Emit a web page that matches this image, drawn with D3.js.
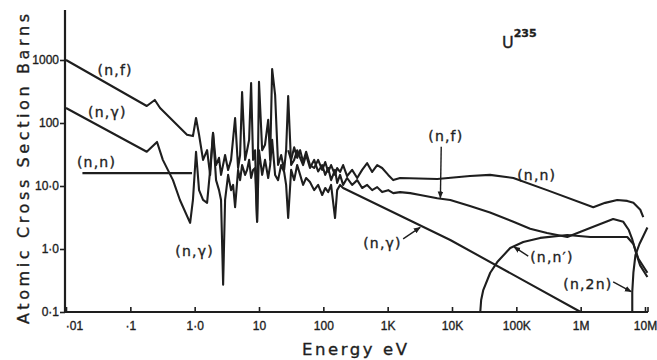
<!DOCTYPE html>
<html>
<head>
<meta charset="utf-8">
<script src="https://cdn.jsdelivr.net/npm/d3@7"></script>
<style>
  body { margin: 0; background: #fff; }
  svg { display: block; font-family: "DejaVu Sans", sans-serif; }
  svg text { stroke: #1e1e1e; stroke-width: 0.35px; }
  .curve { fill: none; stroke: #1e1e1e; stroke-width: 2.1; stroke-linejoin: round; }
  .lbl { font-size: 14px; fill: #1e1e1e; letter-spacing: 1.2px; }
  .tick text { font-size: 12px; fill: #1e1e1e; }
</style>
</head>
<body>
<div id="graph"></div>
<script>
// energy (eV) and cross section (barns)
const xTicks = [0.01, 0.1, 1, 10, 100, 1e3, 1e4, 1e5, 1e6, 1e7];
const xTickLabels = ["·01", "·1", "1·0", "10", "100", "1K", "10K", "100K", "1M", "10M"];
const yTicks = [0.1, 1, 10, 100, 1000];
const yTickLabels = ["0·1", "1·0", "10·0", "100", "1000"];

const fission = [
  [0.01, 1000], [0.18, 186], [0.24, 232], [0.29, 173], [0.76, 65], [0.94, 62], [1.05, 120], [1.17, 65],
  [1.35, 26], [1.56, 37], [1.74, 15], [1.93, 70], [2.15, 21.5], [2.39, 28], [2.57, 15], [2.97, 31],
  [3.31, 18], [3.68, 26], [4.25, 120], [4.73, 19.3], [5.08, 31], [5.46, 310], [6.08, 26], [6.53, 37],
  [7.02, 54], [7.54, 431], [8.09, 26], [8.69, 37], [9.34, 2.7], [10.0, 450], [11.2, 37], [12.4, 45],
  [13.9, 112], [14.9, 26], [16.0, 720], [17.8, 280], [19.8, 21.5], [22.1, 31], [24.6, 18], [26.4, 37],
  [28.4, 268], [31.6, 21.5], [35.2, 26], [39.2, 37], [43.6, 28], [48.5, 21.5], [54, 31], [62, 19.3],
  [72, 26], [83, 17], [96, 21.5], [107, 15], [119, 19.3], [132, 12.4], [152, 18], [164, 11.2],
  [182, 15], [203, 10.4], [234, 13.4], [280, 10.4], [336, 12.4], [401, 9.3], [480, 10.4], [574, 8.6],
  [687, 9.6], [820, 8.0], [1020, 8.6], [1220, 7.7], [1560, 8.0], [2240, 7.7], [3200, 7.2], [5900, 6.4],
  [9400, 6.0], [19000, 4.8], [39000, 3.8], [90000, 2.7], [164000, 2.1], [300000, 1.8], [620000, 1.55],
  [1.4e6, 2.15], [3.2e6, 3.0], [4.6e6, 2.7], [5.6e6, 2.0], [6.3e6, 1.45], [7.3e6, 0.85], [8.4e6, 0.55], [1.09e7, 0.36]
];

const capture = [
  [0.01, 173], [0.18, 35], [0.26, 50], [0.32, 26], [0.46, 12.4], [0.59, 6.0], [0.85, 2.6], [0.94, 6.0],
  [1.05, 35], [1.17, 8.6], [1.35, 6.0], [1.56, 5.4], [1.74, 18], [1.93, 69], [2.15, 12.4], [2.39, 8.6],
  [2.57, 6.0], [2.77, 0.27], [2.97, 6.0], [3.31, 15], [3.68, 8.6], [3.96, 10.4], [4.25, 4.6], [4.73, 18],
  [5.08, 12.4], [5.46, 21.5], [6.08, 15], [6.53, 18], [7.02, 26], [7.54, 13.4], [8.09, 18], [8.69, 19.3],
  [9.34, 2.7], [10.0, 37], [11.2, 15], [12.4, 26], [13.9, 13.4], [14.9, 21.5], [16.0, 54], [17.8, 15],
  [19.8, 12.4], [22.1, 21.5], [24.6, 16.7], [26.4, 10.4], [28.4, 3.1], [31.6, 18], [35.2, 12.4], [39.2, 21.5],
  [43.6, 15], [48.5, 10.4], [54, 13.4], [62, 11.6], [72, 8.6], [83, 10.4], [96, 7.2], [107, 9.3],
  [119, 8.0], [132, 10.4], [152, 3.1], [164, 8.6], [182, 10.4], [203, 9.3], [9400, 1.39], [1.0e6, 0.1]
];

const scatterLow = [[0.018, 16], [0.91, 16]];

const scatterHigh = [
  [28.4, 37], [31.6, 26], [35.2, 41], [39.2, 28], [43.6, 37], [48.5, 24], [54, 35], [62, 21.5],
  [72, 19.3], [83, 26], [96, 18], [107, 24], [119, 16.7], [132, 21.5], [152, 15], [164, 19.3],
  [182, 16.7], [203, 21.5], [234, 14.4], [280, 18], [336, 13.4], [401, 18], [480, 23], [574, 16.7],
  [687, 21.5], [820, 19.3], [1020, 15], [1220, 12.4], [1560, 13.4], [5900, 12.9], [19000, 14.4],
  [39000, 15], [90000, 13.4], [300000, 8.6], [1.57e6, 4.6], [2.4e6, 5.4], [3.7e6, 6.0], [5.3e6, 5.8],
  [6.6e6, 5.4], [8.45e6, 4.2], [9.4e6, 3.2]
];

const inelastic = [
  [27500, 0.1], [28400, 0.155], [30500, 0.22], [39300, 0.42], [50500, 0.62], [80300, 1.04],
  [128000, 1.29], [235000, 1.5], [620000, 1.67], [1.41e6, 1.55], [5.3e6, 1.55], [6.6e6, 1.2],
  [7.9e6, 0.7], [1.09e7, 0.42]
];

const n2n = [[6.34e6, 0.1], [6.34e6, 0.21], [6.6e6, 0.42], [7.1e6, 0.8], [8.2e6, 1.2], [1.09e7, 2.2]];

// curve labels: [text, energy, sigma]
const labels = [
  ["(n,f)", 0.031, 578], ["(n,γ)", 0.022, 124], ["(n,n)", 0.0148, 20], ["(n,γ)", 0.5, 0.77],
  ["(n,f)", 4270, 52], ["(n,n)", 103000, 12.4], ["(n,γ)", 416, 1.04], ["(n,n′)", 164000, 0.62],
  ["(n,2n)", 536000, 0.23]
];
// pointer lines from label to curve: [e0, s0, e1, s1]
const pointers = [
  [6800, 42, 6600, 6.5], [1740, 1.45, 3200, 2.2], [153000, 0.77, 92000, 1.08], [3.2e6, 0.3, 6.1e6, 0.21]
];

const width = 657, height = 360;

const svg = d3.select("#graph").append("svg")
  .attr("width", width)
  .attr("height", height);

svg.append("defs").append("marker")
  .attr("id", "head")
  .attr("viewBox", "0 0 10 10")
  .attr("refX", 9).attr("refY", 5)
  .attr("markerWidth", 5).attr("markerHeight", 5)
  .attr("orient", "auto")
  .append("path").attr("d", "M0,1 L10,5 L0,9 Z").attr("fill", "#1e1e1e");

const x = d3.scaleLog().domain([0.01, 1e7]).range([66, 645]);
const y = d3.scaleLog().domain([0.1, 1000]).range([312, 60]);

// axes
const xAxis = svg.append("g")
  .attr("transform", "translate(0," + y(0.1) + ")")
  .call(d3.axisBottom(x).tickValues(xTicks).tickFormat((d, i) => xTickLabels[i]).tickSize(-5).tickPadding(9));
xAxis.select(".domain").remove();
xAxis.selectAll(".tick line").attr("stroke", "#1e1e1e").attr("stroke-width", 1.6);
xAxis.selectAll(".tick text").filter((d, i) => i === 0).attr("dx", 8);

const yAxis = svg.append("g")
  .attr("transform", "translate(" + (x(0.01) - 1) + ",0)")
  .call(d3.axisLeft(y).tickValues(yTicks).tickFormat((d, i) => yTickLabels[i]).tickSize(5).tickPadding(1));
yAxis.select(".domain").remove();
yAxis.selectAll(".tick line").attr("stroke", "#1e1e1e").attr("stroke-width", 1.6);

svg.append("line")
  .attr("x1", x(0.01) - 2).attr("x2", x(1e7) + 3)
  .attr("y1", y(0.1)).attr("y2", y(0.1))
  .attr("stroke", "#1e1e1e").attr("stroke-width", 2.2);
svg.append("line")
  .attr("x1", x(0.01) - 1).attr("x2", x(0.01) - 1)
  .attr("y1", y(0.1)).attr("y2", 10)
  .attr("stroke", "#1e1e1e").attr("stroke-width", 2.2);
svg.append("line")
  .attr("x1", x(1e7) + 3).attr("x2", x(1e7) + 3)
  .attr("y1", y(0.1)).attr("y2", y(0.1) - 5)
  .attr("stroke", "#1e1e1e").attr("stroke-width", 1.6);

// curves
const line = d3.line().x(d => x(d[0])).y(d => y(d[1]));
[fission, capture, scatterLow, scatterHigh, inelastic, n2n].forEach(s => {
  svg.append("path").datum(s).attr("class", "curve").attr("d", line);
});

// labels + pointers
svg.selectAll("text.lbl").data(labels).enter().append("text")
  .attr("class", "lbl")
  .attr("x", d => x(d[1])).attr("y", d => y(d[2]))
  .text(d => d[0]);

svg.selectAll("line.ptr").data(pointers).enter().append("line")
  .attr("class", "ptr")
  .attr("x1", d => x(d[0])).attr("y1", d => y(d[1]))
  .attr("x2", d => x(d[2])).attr("y2", d => y(d[3]))
  .attr("stroke", "#1e1e1e").attr("stroke-width", 1.4)
  .attr("marker-end", "url(#head)");

// titles
svg.append("text")
  .attr("transform", "translate(29,169) rotate(-90)")
  .attr("text-anchor", "middle")
  .attr("textLength", 310).attr("lengthAdjust", "spacing")
  .style("font-size", "16px").style("fill", "#1e1e1e")
  .text("Atomic Cross Section Barns");

svg.append("text")
  .attr("x", 302).attr("y", 355)
  .attr("textLength", 105).attr("lengthAdjust", "spacing")
  .style("font-size", "16.5px").style("fill", "#1e1e1e")
  .text("Energy eV");

const iso = svg.append("text")
  .attr("x", 502).attr("y", 48)
  .style("font-size", "16px").style("fill", "#1e1e1e");
iso.append("tspan").text("U");
iso.append("tspan").attr("dy", -11).style("font-size", "11px").style("font-weight", "bold").text("235");
</script>
</body>
</html>
